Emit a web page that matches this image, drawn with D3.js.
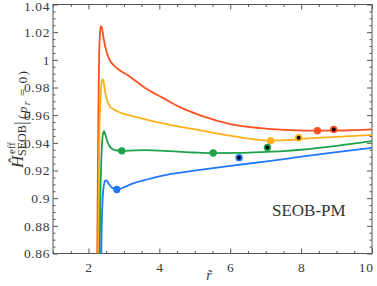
<!DOCTYPE html>
<html>
<head>
<meta charset="utf-8">
<script src="https://cdn.jsdelivr.net/npm/d3@7"></script>
<style>
  body { margin: 0; background: #fff; }
  text { font-family: "Liberation Serif", serif; fill: #333; }
</style>
</head>
<body>
<svg id="chart"></svg>
<script>
let w = 377;
let h = 286;
let padLeft = 53, padRight = 372, padTop = 4.5, padBottom = 253.5;

// curve data, r~ vs H_eff
const redR = [2.245, 2.26, 2.28, 2.30, 2.32, 2.35, 2.38, 2.42, 2.47, 2.52, 2.62, 2.72, 2.85, 3.1, 3.6, 4.1, 4.6, 5.2, 6.0, 6.86, 7.5, 8.2, 8.9, 9.5, 10];
const redH = [0.85, 0.90, 0.96, 1.0, 1.017, 1.0245, 1.023, 1.0167, 1.010, 1.005, 0.999, 0.996, 0.993, 0.989, 0.9797, 0.9725, 0.9656, 0.9595, 0.9536, 0.9506, 0.9494, 0.9488, 0.9488, 0.9492, 0.9497];

const orangeR = [2.275, 2.29, 2.31, 2.34, 2.37, 2.40, 2.43, 2.47, 2.53, 2.6, 2.71, 2.95, 3.3, 3.6, 4.2, 5.16, 6.0, 6.86, 7.2, 7.6, 8.0, 9.0, 10];
const orangeH = [0.85, 0.90, 0.945, 0.972, 0.983, 0.986, 0.984, 0.977, 0.9705, 0.9665, 0.9642, 0.9613, 0.959, 0.957, 0.9535, 0.949, 0.9452, 0.9421, 0.9416, 0.9419, 0.9428, 0.9443, 0.9457];

const greenR = [2.315, 2.33, 2.36, 2.39, 2.42, 2.44, 2.47, 2.52, 2.61, 2.75, 2.94, 3.3, 3.6, 4.3, 5.0, 5.52, 6.2, 6.86, 7.5, 8.0, 9.0, 10];
const greenH = [0.85, 0.89, 0.925, 0.942, 0.9475, 0.9484, 0.9465, 0.9419, 0.9371, 0.9347, 0.9341, 0.9345, 0.9347, 0.9340, 0.9330, 0.9326, 0.9327, 0.9333, 0.934, 0.935, 0.9378, 0.9412];

const blueR = [2.355, 2.37, 2.40, 2.44, 2.48, 2.52, 2.57, 2.64, 2.72, 2.80, 2.9, 3.04, 3.3, 3.6, 4.0, 4.6, 5.2, 6.0, 6.86, 8.0, 9.0, 10];
const blueH = [0.85, 0.875, 0.899, 0.910, 0.9128, 0.9125, 0.9105, 0.9082, 0.9067, 0.9063, 0.9068, 0.9083, 0.911, 0.9131, 0.9158, 0.9185, 0.9207, 0.9234, 0.926, 0.930, 0.9333, 0.9364];

const seriesColors = ['#ff5020', '#ffb01a', '#1fa34a', '#2178ff'];

// markers
const markerR = [2.80, 2.94, 5.52, 7.14, 8.46, 6.25, 7.05, 7.93, 8.92];
const markerH = [0.9063, 0.9342, 0.9326, 0.9415, 0.9487, 0.9293, 0.9367, 0.9437, 0.9497];
const markerSeries = [3, 2, 2, 1, 0, 3, 2, 1, 0];
const markerCore = [false, false, false, false, false, true, true, true, true];

const xTicks = [2, 4, 6, 8, 10];
const xTickLabels = ['2', '4', '6', '8', '10'];
const yTicks = [0.86, 0.88, 0.9, 0.92, 0.94, 0.96, 0.98, 1, 1.02, 1.04];
const yTickLabels = ['0.86', '0.88', '0.9', '0.92', '0.94', '0.96', '0.98', '1', '1.02', '1.04'];

const svg = d3.select('#chart')
  .attr('width', w)
  .attr('height', h)

const x = d3.scaleLinear().domain([1, 10]).range([padLeft, padRight]);
const y = d3.scaleLinear().domain([0.86, 1.04]).range([padBottom, padTop]);

const xMinor = d3.range(1, 10.001, 0.5).filter(v => !xTicks.includes(v));
const yMinor = d3.range(0, 37).map(i => 0.86 + i * 0.005).filter(v => !yTicks.some(t => Math.abs(t - v) < 1e-6));

svg.append('clipPath').attr('id', 'clip')
  .append('rect')
  .attr('x', padLeft).attr('y', padTop)
  .attr('width', padRight - padLeft).attr('height', padBottom - padTop)

// axes, ticks pointing inward
function axisGroup(axis, tx, ty) {
  const g = svg.append('g')
    .attr('transform', `translate(${tx},${ty})`)
    .call(axis)
  g.select('.domain').remove();
  g.selectAll('line').attr('stroke', '#555');
  g.selectAll('text')
    .style('font-family', '"Liberation Serif", serif')
    .style('font-size', '13.5px')
    .style('letter-spacing', '0.6px')
    .style('fill', '#3a3a3a');
  return g;
}

const xAxisG = axisGroup(d3.axisBottom(x).tickValues(xTicks).tickSize(-5).tickPadding(9)
  .tickFormat((d, i) => xTickLabels[i]), 0, padBottom);
xAxisG.selectAll('text').filter(d => d === 10).attr('text-anchor', 'end').attr('x', 1);
axisGroup(d3.axisBottom(x).tickValues(xMinor).tickSize(-2.5).tickFormat(''), 0, padBottom);
axisGroup(d3.axisTop(x).tickValues(xTicks).tickSize(-5).tickFormat(''), 0, padTop);
axisGroup(d3.axisTop(x).tickValues(xMinor).tickSize(-2.5).tickFormat(''), 0, padTop);

const yAxisG = axisGroup(d3.axisLeft(y).tickValues(yTicks).tickSize(-5).tickPadding(3)
  .tickFormat((d, i) => yTickLabels[i]), padLeft, 0);
yAxisG.selectAll('text').filter(d => d === 1.04).attr('dy', '0.45em');
axisGroup(d3.axisLeft(y).tickValues(yMinor).tickSize(-2.5).tickFormat(''), padLeft, 0);
axisGroup(d3.axisRight(y).tickValues(yTicks).tickSize(-5).tickFormat(''), padRight, 0);
axisGroup(d3.axisRight(y).tickValues(yMinor).tickSize(-2.5).tickFormat(''), padRight, 0);

svg.append('rect')
  .attr('x', padLeft).attr('y', padTop)
  .attr('width', padRight - padLeft).attr('height', padBottom - padTop)
  .attr('fill', 'none')
  .attr('stroke', '#555')
  .attr('stroke-width', 1)

// curves
const series = [
  [redR, redH],
  [orangeR, orangeH],
  [greenR, greenH],
  [blueR, blueH]
];

const line = d3.line()
  .x(d => x(d[0]))
  .y(d => y(d[1]))
  .curve(d3.curveMonotoneX)

const plot = svg.append('g').attr('clip-path', 'url(#clip)');

series.forEach((s, i) => {
  plot.append('path')
    .datum(s[0].map((r, j) => [r, s[1][j]]))
    .attr('d', line)
    .attr('fill', 'none')
    .attr('stroke', seriesColors[i])
    .attr('stroke-width', 1.8)
})

const markers = markerR.map((r, i) => ({ r: r, h: markerH[i], s: markerSeries[i], core: markerCore[i] }));

plot.selectAll('circle.m')
  .data(markers)
  .enter()
  .append('circle')
  .attr('class', 'm')
  .attr('cx', d => x(d.r))
  .attr('cy', d => y(d.h))
  .attr('r', 3.7)
  .attr('fill', d => seriesColors[d.s])

plot.selectAll('circle.c')
  .data(markers.filter(d => d.core))
  .enter()
  .append('circle')
  .attr('class', 'c')
  .attr('cx', d => x(d.r))
  .attr('cy', d => y(d.h))
  .attr('r', 2)
  .attr('fill', '#000')

// annotation
svg.append('text')
  .attr('x', 272)
  .attr('y', 215.5)
  .attr('font-size', 17)
  .attr('fill', '#222')
  .text('SEOB-PM')

// x label
svg.append('text')
  .attr('x', 209)
  .attr('y', 280)
  .attr('text-anchor', 'middle')
  .attr('font-size', 14)
  .attr('font-style', 'italic')
  .text('r\u0303')

// y label, rotated
const yl = svg.append('g').attr('transform', 'translate(23,168) rotate(-90)');
yl.append('text').attr('x', 0).attr('y', 0)
  .attr('font-size', 17).attr('font-style', 'italic').text('\u0124');
yl.append('text').attr('x', 14).attr('y', -8)
  .attr('font-size', 11).text('eff');
yl.append('text').attr('x', 12).attr('y', 3)
  .attr('font-size', 12).text('SEOB');
yl.append('text').attr('x', 43).attr('y', 4)
  .attr('font-size', 19).text('|');
const sub = yl.append('text').attr('x', 49).attr('y', 4)
  .attr('font-size', 13.5).style('letter-spacing', '1.2px');
sub.append('tspan').text('(');
sub.append('tspan').attr('font-style', 'italic').text('p');
sub.append('tspan').attr('font-style', 'italic').attr('font-size', 10).attr('dy', 3).text('r');
sub.append('tspan').attr('dy', -3).attr('dx', 4).text('=');
sub.append('tspan').attr('dx', 4).text('0)');
</script>
</body>
</html>
